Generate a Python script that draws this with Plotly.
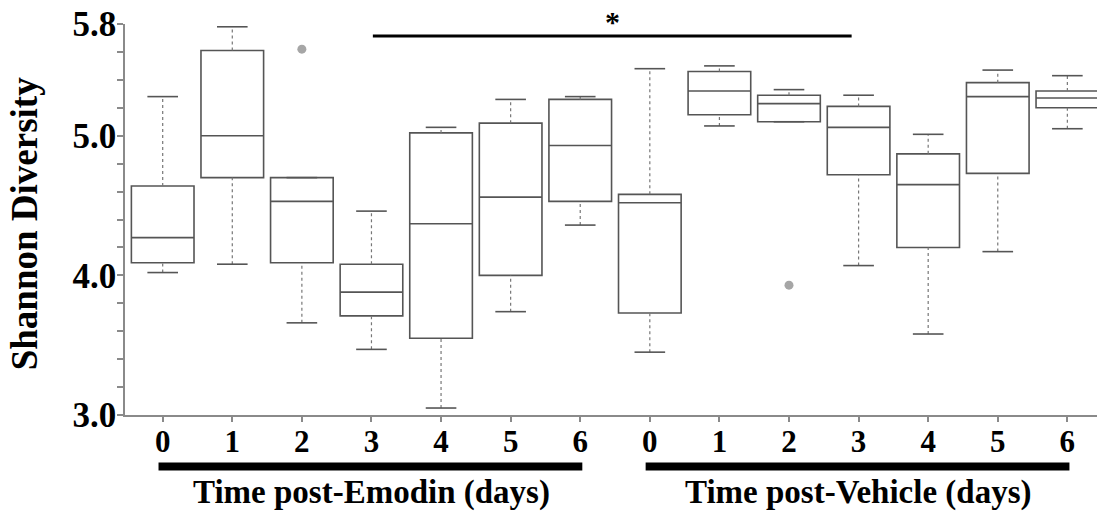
import plotly.graph_objects as go

# ---- data ----
positions = list(range(14))
tick_labels = ["0", "1", "2", "3", "4", "5", "6", "0", "1", "2", "3", "4", "5", "6"]
lower_whisker = [4.02, 4.08, 3.66, 3.47, 3.05, 3.74, 4.36, 3.45, 5.07, 5.10, 4.07, 3.58, 4.17, 5.05]
q1 = [4.09, 4.70, 4.09, 3.71, 3.55, 4.00, 4.53, 3.73, 5.15, 5.10, 4.72, 4.20, 4.73, 5.20]
median = [4.27, 5.00, 4.53, 3.88, 4.37, 4.56, 4.93, 4.52, 5.32, 5.23, 5.06, 4.65, 5.28, 5.27]
q3 = [4.64, 5.61, 4.70, 4.08, 5.02, 5.09, 5.26, 4.58, 5.46, 5.29, 5.21, 4.87, 5.38, 5.32]
upper_whisker = [5.28, 5.78, 4.70, 4.46, 5.06, 5.26, 5.28, 5.48, 5.50, 5.33, 5.29, 5.01, 5.47, 5.43]
outlier_pos = [2, 9]
outlier_val = [5.62, 3.93]

y_tickvals = [3.0, 3.2, 3.4, 3.6, 3.8, 4.0, 4.2, 4.4, 4.6, 4.8, 5.0, 5.2, 5.4, 5.6, 5.8]
y_ticktext = ["3.0", "", "", "", "", "4.0", "", "", "", "", "5.0", "", "", "", "5.8"]

groups = ["Time post-Emodin (days)", "Time post-Vehicle (days)"]
group_centers = [3, 10]
group_spans = [(-0.06, 6.03), (6.94, 13.03)]
sig_span = (3.02, 9.9)
sig_level = 5.714

FONT = "Liberation Serif"
BOX_COL = "#555555"
CAP_HALF = 0.22

fig = go.Figure()

fig.add_trace(go.Box(
    x=positions, q1=q1, median=median, q3=q3,
    lowerfence=q1, upperfence=q3,
    width=0.9, whiskerwidth=0, boxpoints=False,
    fillcolor="white", line=dict(color=BOX_COL, width=1.6),
    showlegend=False, hoverinfo="skip",
))

# dotted whisker stems
sx, sy = [], []
for p, lo, a, b, hi in zip(positions, lower_whisker, q1, q3, upper_whisker):
    sx += [p, p, None, p, p, None]
    sy += [b, hi, None, lo, a, None]
fig.add_trace(go.Scatter(x=sx, y=sy, mode="lines",
                         line=dict(color="#777777", width=1.2, dash="dot"),
                         showlegend=False, hoverinfo="skip"))

# solid caps
cx, cy = [], []
for p, lo, hi in zip(positions, lower_whisker, upper_whisker):
    cx += [p - CAP_HALF, p + CAP_HALF, None, p - CAP_HALF, p + CAP_HALF, None]
    cy += [hi, hi, None, lo, lo, None]
fig.add_trace(go.Scatter(x=cx, y=cy, mode="lines",
                         line=dict(color="#555555", width=1.6),
                         showlegend=False, hoverinfo="skip"))

# outliers
fig.add_trace(go.Scatter(x=outlier_pos, y=outlier_val, mode="markers",
                         marker=dict(color="#a6a6a6", size=9),
                         showlegend=False, hoverinfo="skip"))

# significance bar
fig.add_shape(type="line", xref="x", yref="y", x0=sig_span[0], x1=sig_span[1],
              y0=sig_level, y1=sig_level, line=dict(color="black", width=3))
fig.add_annotation(x=(sig_span[0] + sig_span[1]) / 2, y=sig_level, xref="x", yref="y",
                   text="*", showarrow=False, yanchor="bottom", yshift=-4,
                   font=dict(family=FONT, size=30, color="black", weight="bold"))

# group bars and labels
for (a, b), c, g in zip(group_spans, group_centers, groups):
    fig.add_shape(type="line", xref="x", yref="paper", x0=a, x1=b, y0=-0.132, y1=-0.132,
                  line=dict(color="black", width=8))
    fig.add_annotation(x=c, y=-0.2506, xref="x", yref="paper", text=g, showarrow=False,
                       yanchor="bottom",
                       font=dict(family=FONT, size=33, color="black", weight="bold"))

# y title
fig.add_annotation(x=-0.104, y=0.49, xref="paper", yref="paper", text="Shannon Diversity",
                   textangle=-90, showarrow=False, xanchor="center", yanchor="middle",
                   font=dict(family=FONT, size=37, color="black", weight="bold"))

fig.update_layout(
    width=1097, height=513,
    margin=dict(l=125, r=0, t=24, b=98),
    paper_bgcolor="white", plot_bgcolor="white",
    showlegend=False,
    xaxis=dict(range=[-0.5417, 13.426], tickmode="array", tickvals=positions,
               ticktext=tick_labels, showline=True, linecolor="#8a8a8a", linewidth=1.5,
               ticks="outside", ticklen=5, tickwidth=1.5, tickcolor="#8a8a8a",
               showgrid=False, zeroline=False, ticklabelstandoff=-7,
               tickfont=dict(family=FONT, size=31, color="black", weight="bold")),
    yaxis=dict(range=[3.0, 5.8], tickmode="array", tickvals=y_tickvals,
               ticktext=y_ticktext, showline=True, linecolor="#8a8a8a", linewidth=1.5,
               ticks="outside", ticklen=6, tickwidth=1.5, tickcolor="#8a8a8a",
               showgrid=False, zeroline=False, ticklabelstandoff=-6,
               tickfont=dict(family=FONT, size=35, color="black", weight="bold")),
)

fig.write_html("out.html")
